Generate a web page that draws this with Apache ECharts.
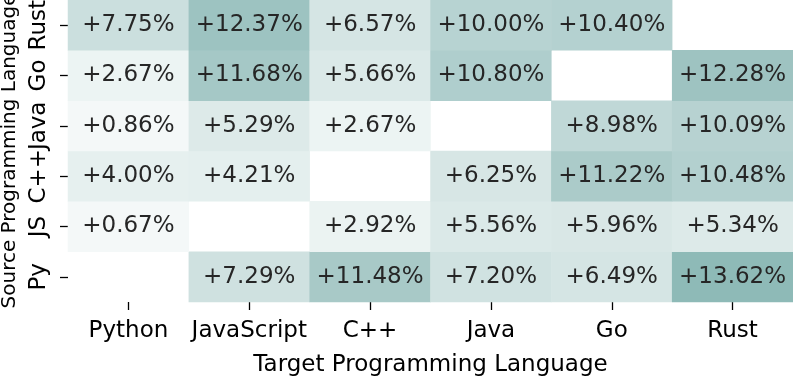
<!DOCTYPE html>
<html>
<head>
<meta charset="utf-8">
<script src="https://cdn.jsdelivr.net/npm/echarts@6/dist/echarts.min.js"></script>
<style>
  html, body { margin: 0; padding: 0; background: #fff; }
  #chart { width: 793px; height: 382px; }
</style>
</head>
<body>
<div id="chart"></div>
<script>
// target languages (columns) and source languages (rows, bottom to top)
const targets = ['Python', 'JavaScript', 'C++', 'Java', 'Go', 'Rust'];
const sources = ['Py', 'JS', 'C++', 'Java', 'Go', 'Rust'];

// one array per source row, values in %, null on the diagonal
const rowPy   = [null, 7.29, 11.48, 7.20, 6.49, 13.62];
const rowJS   = [0.67, null, 2.92, 5.56, 5.96, 5.34];
const rowCpp  = [4.00, 4.21, null, 6.25, 11.22, 10.48];
const rowJava = [0.86, 5.29, 2.67, null, 8.98, 10.09];
const rowGo   = [2.67, 11.68, 5.66, 10.80, null, 12.28];
const rowRust = [7.75, 12.37, 6.57, 10.00, 10.40, null];

const rows = [rowPy, rowJS, rowCpp, rowJava, rowGo, rowRust];

const cells = [];
rows.forEach((row, y) => {
    row.forEach((v, x) => {
        if (v !== null) cells.push([x, y, v]);
    });
});

const FONT = 'DejaVu Sans';
const chart = echarts.init(document.getElementById('chart'));

chart.setOption({
    animation: false,
    grid: { left: 68, right: 0, top: 0, bottom: 80, containLabel: false, outerBoundsMode: 'none' },
    xAxis: {
        type: 'category',
        data: targets,
        name: 'Target Programming Language',
        nameLocation: 'middle',
        nameGap: 52,
        nameTextStyle: { fontFamily: FONT, fontSize: 23, color: '#000' },
        axisLine: { show: false },
        axisTick: { show: true, alignWithLabel: true, interval: 0, length: 8, lineStyle: { color: '#000', width: 1.3 } },
        axisLabel: { fontFamily: FONT, fontSize: 23, color: '#000', margin: 18, interval: 0 },
        splitArea: { show: false }
    },
    yAxis: {
        type: 'category',
        data: sources,
        name: 'Source Programming Language',
        nameLocation: 'middle',
        nameGap: 47,
        nameTextStyle: { fontFamily: FONT, fontSize: 20, color: '#000' },
        axisLine: { show: false },
        axisTick: { show: true, alignWithLabel: true, interval: 0, length: 8, lineStyle: { color: '#000', width: 1.3 } },
        axisLabel: { fontFamily: FONT, fontSize: 23, color: '#000', rotate: 90, margin: 17, interval: 0 },
        splitArea: { show: false }
    },
    visualMap: {
        show: false,
        min: 0,
        max: 14,
        inRange: { color: ['#f7fafa', '#e9f2f1', '#d2e3e2', '#b3d0cf', '#8ab7b4'] }
    },
    series: [{
        type: 'heatmap',
        data: cells,
        label: {
            show: true,
            fontFamily: FONT,
            fontSize: 23,
            color: '#262626',
            formatter: p => '+' + p.value[2].toFixed(2) + '%'
        },
        itemStyle: { borderWidth: 0 },
        emphasis: { disabled: true }
    }]
});
</script>
</body>
</html>
